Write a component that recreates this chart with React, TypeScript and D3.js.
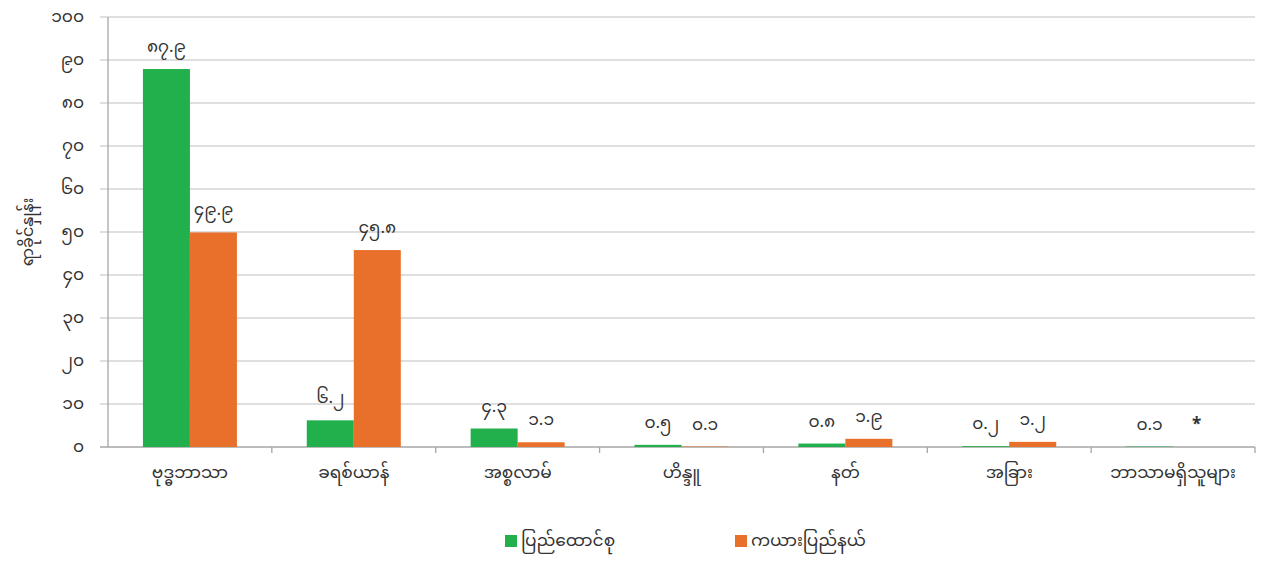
import React from "react";
import * as d3 from "d3";

const categories = ["ဗုဒ္ဓဘာသာ", "ခရစ်ယာန်", "အစ္စလာမ်", "ဟိန္ဒူ", "နတ်", "အခြား", "ဘာသာမရှိသူများ"];
const unionValues = [87.9, 6.2, 4.3, 0.5, 0.8, 0.2, 0.1];
const kayahValues: (number | null)[] = [49.9, 45.8, 1.1, 0.1, 1.9, 1.2, null];
const seriesNames = ["ပြည်ထောင်စု", "ကယားပြည်နယ်"];
const yTicks = [0, 10, 20, 30, 40, 50, 60, 70, 80, 90, 100];
const yTitle = "ရာခိုင်နှုန်း";
const missingLabel = "*";

const COLORS = ["#21b04b", "#e8702a"];
const FONT = "'Noto Sans Myanmar', 'Padauk', 'Myanmar Text', 'Noto Sans', sans-serif";

const mm = (s: string) => s.replace(/[0-9]/g, (d) => String.fromCharCode(0x1040 + Number(d)));

export default function App() {
  const W = 1262, H = 561;
  const left = 108, right = 1255, top = 17, bottom = 447;
  const x = d3.scaleBand<string>().domain(categories).range([left, right]);
  const y = d3.scaleLinear().domain([0, 100]).range([bottom, top]);
  const bw = 47;
  const series = [unionValues, kayahValues];

  return (
    <svg width={W} height={H} style={{ position: "absolute", left: 0, top: 0, background: "#fff" }} fontFamily={FONT}>
      {yTicks.map((t) => (
        <g key={t}>
          <line x1={left - 8} x2={right} y1={y(t)} y2={y(t)} stroke={t === 0 ? "#a6a6a6" : "#d4d4d4"} strokeWidth={1.3} />
          <text x={84} y={y(t)} dy="0.3em" textAnchor="end" fontSize={17} fill="#333">{mm(String(t))}</text>
        </g>
      ))}
      <line x1={left} x2={left} y1={top} y2={bottom} stroke="#a6a6a6" strokeWidth={1.3} />
      {categories.map((c, i) => (
        <line key={"tk" + i} x1={x(c)! + x.bandwidth()} x2={x(c)! + x.bandwidth()} y1={bottom} y2={bottom + 6} stroke="#a6a6a6" strokeWidth={1.3} />
      ))}
      {series.map((vals, si) =>
        vals.map((v, i) => {
          const cx = x(categories[i])! + x.bandwidth() / 2;
          const bx = si === 0 ? cx - bw : cx;
          const val = v ?? 0;
          return (
            <g key={si + "-" + i}>
              <rect x={bx} y={y(val)} width={bw} height={bottom - y(val)} fill={COLORS[si]} />
              <text x={bx + bw / 2} y={y(val) - 17} textAnchor="middle" fontSize={17} fill="#333" fontWeight={v === null ? 700 : 400}>
                {v === null ? missingLabel : mm(v.toFixed(1))}
              </text>
            </g>
          );
        })
      )}
      {categories.map((c, i) => (
        <text key={"xl" + i} x={x(c)! + x.bandwidth() / 2} y={478} textAnchor="middle" fontSize={17} fill="#333">{c}</text>
      ))}
      <text transform={`translate(28,${(top + bottom) / 2}) rotate(-90)`} textAnchor="middle" fontSize={16} fill="#333" dy="0.3em">{yTitle}</text>
      {seriesNames.map((n, i) => {
        const lx = i === 0 ? 505 : 735;
        return (
          <g key={n}>
            <rect x={lx} y={535} width={12} height={12} fill={COLORS[i]} />
            <text x={lx + 16} y={541} dy="0.3em" fontSize={17} fill="#333">{n}</text>
          </g>
        );
      })}
    </svg>
  );
}
